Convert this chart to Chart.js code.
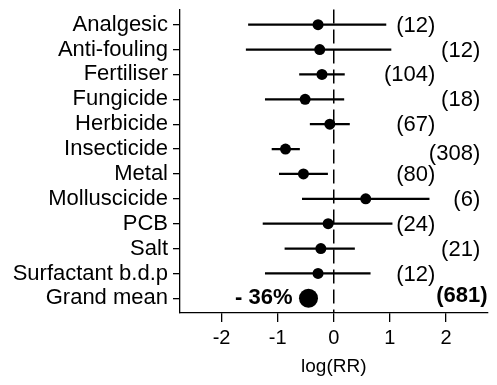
<!DOCTYPE html>
<html>
<head>
<meta charset="utf-8">
<script src="https://cdn.jsdelivr.net/npm/chart.js@4"></script>
<style>
  html, body { margin: 0; padding: 0; background: #fff; }
  #wrap { width: 497px; height: 385px; }
</style>
</head>
<body>
<div id="wrap"><canvas id="forest"></canvas></div>
<script>
// effect sizes, log response ratio
var categories = ['Analgesic', 'Anti-fouling', 'Fertiliser', 'Fungicide', 'Herbicide', 'Insecticide',
  'Metal', 'Molluscicide', 'PCB', 'Salt', 'Surfactant b.d.p', 'Grand mean'];
var meanLogRR = [-0.28, -0.25, -0.21, -0.51, -0.07, -0.86, -0.54, 0.57, -0.10, -0.23, -0.28, -0.45];
var lowerCI = [-1.52, -1.56, -0.61, -1.22, -0.42, -1.10, -0.97, -0.56, -1.26, -0.87, -1.22, -0.52];
var upperCI = [0.93, 1.02, 0.19, 0.18, 0.28, -0.61, -0.11, 1.70, 1.04, 0.37, 0.65, -0.38];
var sampleSizes = [12, 12, 104, 18, 67, 308, 80, 6, 24, 21, 12, 681];
var xTicks = [-2, -1, 0, 1, 2];

var FONT = '"Liberation Sans", Arial, Helvetica, sans-serif';
Chart.defaults.color = '#000';
Chart.defaults.font.family = FONT;

var last = categories.length - 1;

var ciData = categories.map(function (c, i) {
  return { x: [lowerCI[i], upperCI[i]], y: i + 1 };
});
var pointData = categories.map(function (c, i) {
  return { x: meanLogRR[i], y: i + 1 };
});

// dashed zero line, sample sizes and the grand mean percentage
var annotate = {
  id: 'annotate',
  beforeDatasetsDraw: function (chart) {
    var ctx = chart.ctx, a = chart.chartArea;
    var x0 = chart.scales.x.getPixelForValue(0);
    ctx.save();
    ctx.strokeStyle = '#000';
    ctx.lineWidth = 1.5;
    ctx.setLineDash([14, 6]);
    ctx.beginPath();
    ctx.moveTo(x0, a.top);
    ctx.lineTo(x0, a.bottom);
    ctx.stroke();
    ctx.restore();
  },
  afterDatasetsDraw: function (chart) {
    var ctx = chart.ctx, xs = chart.scales.x, ys = chart.scales.y;
    ctx.save();
    ctx.fillStyle = '#000';
    ctx.textBaseline = 'middle';
    ctx.textAlign = 'right';
    sampleSizes.forEach(function (n, i) {
      var y = ys.getPixelForValue(i + 1);
      if (i === last) {
        ctx.font = 'bold 22px ' + FONT;
        ctx.fillText('(' + n + ')', chart.chartArea.right, y - 2);
        return;
      }
      ctx.font = '22px ' + FONT;
      var col = i % 2 === 0 ? 1.81 : 2.61;
      var dy = categories[i] === 'Insecticide' ? 5 : 1;
      ctx.fillText('(' + n + ')', xs.getPixelForValue(col), y + dy);
    });
    // percent change for the grand mean
    var pct = Math.round((Math.exp(meanLogRR[last]) - 1) * 100);
    var gx = xs.getPixelForValue(meanLogRR[last]);
    ctx.font = 'bold 22px ' + FONT;
    ctx.fillText((pct < 0 ? '- ' : '') + Math.abs(pct) + '%', gx - 16, ys.getPixelForValue(last + 1));
    ctx.restore();
  }
};

new Chart(document.getElementById('forest'), {
  type: 'bar',
  data: {
    datasets: [
      {
        type: 'bar',
        data: ciData,
        backgroundColor: '#000',
        barThickness: 1.6,
        borderWidth: 0
      },
      {
        type: 'scatter',
        data: pointData,
        backgroundColor: '#000',
        borderWidth: 0,
        pointRadius: function (ctx) { return ctx.dataIndex === last ? 9.5 : 5.5; },
        pointHoverRadius: function (ctx) { return ctx.dataIndex === last ? 9.5 : 5.5; }
      }
    ]
  },
  options: {
    indexAxis: 'y',
    responsive: true,
    maintainAspectRatio: false,
    animation: false,
    layout: { padding: { top: 8, right: 9, left: 0, bottom: 0 } },
    scales: {
      x: {
        type: 'linear',
        min: -2.74,
        max: 2.74,
        offset: false,
        afterFit: function (s) { s.height = 72; s.paddingLeft = 0; s.paddingRight = 0; },
        afterBuildTicks: function (s) {
          s.ticks = xTicks.map(function (v) { return { value: v }; });
        },
        ticks: { font: { size: 20 }, padding: 4, maxRotation: 0 },
        grid: { display: true, drawOnChartArea: false, offset: false, tickLength: 9, color: '#000', lineWidth: 1.3 },
        border: { display: true, color: '#000', width: 1.3 },
        title: { display: true, text: 'log(RR)', font: { size: 19 }, padding: { top: 4, bottom: 7 } }
      },
      y: {
        type: 'linear',
        reverse: true,
        min: 0.39,
        max: 12.59,
        offset: false,
        afterFit: function (s) { s.width = 180; s.paddingTop = 0; s.paddingBottom = 0; },
        afterBuildTicks: function (s) {
          s.ticks = categories.map(function (c, i) { return { value: i + 1 }; });
        },
        ticks: {
          autoSkip: false,
          font: { size: 22 },
          padding: 5,
          callback: function (v) { return categories[v - 1]; }
        },
        grid: { display: true, drawOnChartArea: false, offset: false, tickLength: 7, color: '#000', lineWidth: 1.3 },
        border: { display: true, color: '#000', width: 1.3 }
      }
    },
    plugins: {
      legend: { display: false },
      tooltip: { enabled: false }
    }
  },
  plugins: [annotate]
});
</script>
</body>
</html>
